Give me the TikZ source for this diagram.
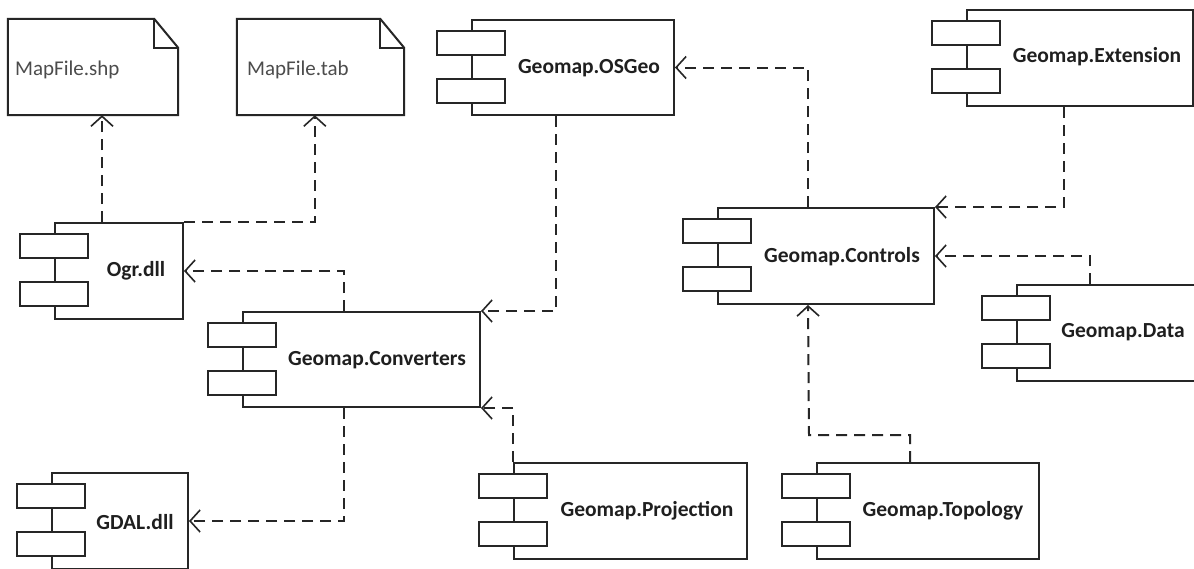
\documentclass[tikz,border=0pt]{standalone}
\usepackage{fontspec}
\setmainfont{Carlito}
\usetikzlibrary{fit,arrows.meta}
\tikzset{
  boxline/.style={draw=black!85, line width=2pt},
  compbox/.style={boxline, inner sep=0pt},
  docbox/.style={inner sep=0pt},
  tabrect/.style={boxline, fill=white},
  lbl/.style={font=\bfseries\fontsize{21.5}{25}\selectfont, text=black!88, inner sep=0pt},
  doclbl/.style={font=\fontsize{21}{25}\selectfont, text=black!70, anchor=west, inner sep=0pt},
  dep/.style={line width=2pt, draw=black!85, dash pattern=on 11pt off 7pt,
    -{Straight Barb[length=10pt,width=22pt,line width=1.6pt]}},
}
\newcommand\comptabs[1]{%
  \draw[tabrect] ([xshift=-34pt,yshift=-12pt]#1.north west) rectangle ([xshift=34pt,yshift=-36pt]#1.north west);
  \draw[tabrect] ([xshift=-34pt,yshift=-60pt]#1.north west) rectangle ([xshift=34pt,yshift=-84pt]#1.north west);
}
\newcommand\docshape[1]{%
  \draw[boxline, line join=miter] (#1.north west) -- ([xshift=-24pt]#1.north east) -- ([yshift=-29pt]#1.north east)
     -- (#1.south east) -- (#1.south west) -- cycle;
  \draw[boxline] ([xshift=-24pt]#1.north east) -- ([xshift=-24pt,yshift=-29pt]#1.north east) -- ([yshift=-29pt]#1.north east);
}
\begin{document}
\begin{tikzpicture}[x=1pt,y=-1pt]
\clip (0,0) rectangle (1194,568);
\fill[white] (0,0) rectangle (1194,568);

% documents
\node[docbox, fit={(8,19) (178,115)}] (shp) {};
\docshape{shp}
\node[doclbl] (shpl) at (15,70) {MapFile.shp};
\node[docbox, fit={(237,19) (404,115)}] (tab) {};
\docshape{tab}
\node[doclbl] (tabl) at (247,70) {MapFile.tab};

% components
\node[compbox, fit={(472,20) (674,115)}] (osgeo) {};
\comptabs{osgeo}
\node[lbl] (osgeol) at (589,68) {Geomap.OSGeo};

\node[compbox, fit={(967,10) (1193,106)}] (ext) {};
\comptabs{ext}
\node[lbl] (extl) at (1097,57) {Geomap.Extension};

\node[compbox, fit={(55,223) (183,319)}] (ogr) {};
\comptabs{ogr}
\node[lbl] (ogrl) at (136,271) {Ogr.dll};

\node[compbox, fit={(243,312) (480,407)}] (conv) {};
\comptabs{conv}
\node[lbl] (convl) at (377,360) {Geomap.Converters};

\node[compbox, fit={(52,473) (188,569)}] (gdal) {};
\comptabs{gdal}
\node[lbl] (gdall) at (135,522) {GDAL.dll};

\node[compbox, fit={(514,463) (747,559)}] (proj) {};
\comptabs{proj}
\node[lbl] (projl) at (647,511) {Geomap.Projection};

\node[compbox, fit={(718,208) (934,304)}] (ctrl) {};
\comptabs{ctrl}
\node[lbl] (ctrll) at (842,257) {Geomap.Controls};

\node[compbox, fit={(1017,285) (1210,381)}] (data) {};
\comptabs{data}
\node[lbl] (datal) at (1123,332) {Geomap.Data};

\node[compbox, fit={(817,463) (1039,559)}] (topo) {};
\comptabs{topo}
\node[lbl] (topol) at (943,511) {Geomap.Topology};

% dependencies
\draw[dep] ([xshift=48pt]ogr.north west) -- ([xshift=48pt]ogr.north west |- shp.south);
\draw[dep] (ogr.north east) -| ([xshift=78pt]tab.south west);
\draw[dep] ([xshift=102pt]conv.north west) |- (ogr.east);
\draw[dep] ([xshift=102pt]conv.south west) |- (gdal.east);
\draw[dep] ([xshift=85pt]osgeo.south west) |- (conv.north east);
\draw[dep] (proj.north west) |- (conv.south east);
\draw[dep] ([xshift=91pt]ctrl.north west) |- (osgeo.east);
\draw[dep] ([xshift=98pt]ext.south west) |- (ctrl.north east);
\draw[dep] ([xshift=74pt]data.north west) |- (ctrl.east);
\coordinate (tbend) at (809,435);
\draw[dep] ([xshift=94pt]topo.north west) |- (tbend) -- ([xshift=91pt]ctrl.south west);
\end{tikzpicture}
\end{document}
